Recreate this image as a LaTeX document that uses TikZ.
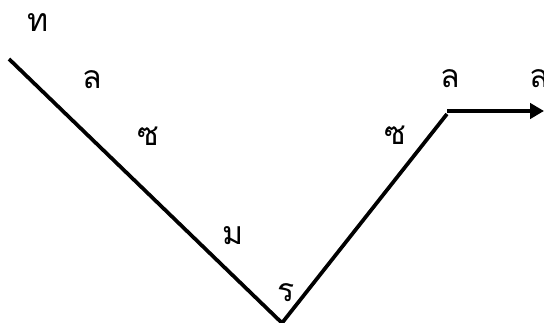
\documentclass[tikz,border=0pt]{standalone}
\usepackage{fontspec}
\newfontfamily\thaifont[Script=Thai]{Loma}
\usetikzlibrary{arrows.meta}

\begin{document}
\begin{tikzpicture}[
  x=0.75pt, y=-0.75pt,
  lbl/.style={anchor=base, inner sep=0pt, font=\thaifont\fontsize{24}{28}\selectfont},
  path/.style={line width=2.8pt},
  flow/.style={-{Triangle[length=10.5pt, width=11.5pt]}, line width=2.8pt}
]
  \useasboundingbox (0,0) rectangle (544,323);
  % corners of the path
  \coordinate (top) at (9,59);
  \coordinate (bottom) at (282,323);
  \coordinate (kink) at (447,114);
  \coordinate (outstart) at (447,111);
  \coordinate (outend) at (544,111);
  \draw[path] (top) -- (bottom) -- (kink);
  \draw[flow] (outstart) -- (outend);
  % letters
  \node[lbl] (t) at (38,32) {ท};
  \node[lbl] (l1) at (92,89) {ล};
  \node[lbl] (s1) at (148,146) {ซ};
  \node[lbl] (m) at (233,245) {ม};
  \node[lbl] (r) at (286,302) {ร};
  \node[lbl] (s2) at (395,145) {ซ};
  \node[lbl] (l2) at (450,88) {ล};
  \node[lbl] (l3) at (539,88) {ล};
\end{tikzpicture}
\end{document}
